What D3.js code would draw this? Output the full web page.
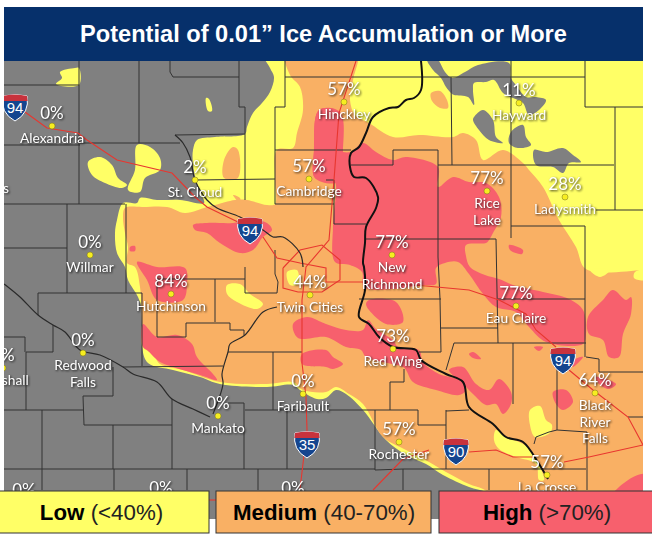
<!DOCTYPE html>
<html>
<head>
<meta charset="utf-8">
<script src="https://cdn.jsdelivr.net/npm/d3@7"></script>
<style>
  html, body { margin: 0; padding: 0; background: #fff; }
  svg { display: block; }
</style>
</head>
<body>
<script>
// map outlines are traced in reference-map units, everything goes through x() and y()
var title = "Potential of 0.01\u201D Ice Accumulation or More";
var levelNames = ["Low", "Medium", "High"];
var levelRanges = ["(<40%)", "(40-70%)", "(>70%)"];

var cityNames = ["Alexandria", "St. Cloud", "Cambridge", "Hinckley", "Hayward", "Rice Lake", "Ladysmith", "New Richmond", "Willmar", "Hutchinson", "Twin Cities", "Eau Claire", "Red Wing", "Redwood Falls", "Marshall", "Black River Falls", "Faribault", "Mankato", "Rochester", "La Crosse"];
var cityValues = [0, 2, 57, 57, 11, 77, 28, 77, 0, 84, 44, 77, 73, 0, 0, 64, 0, 0, 57, 57];
var cityLines = [["Alexandria"], ["St. Cloud"], ["Cambridge"], ["Hinckley"], ["Hayward"], ["Rice", "Lake"], ["Ladysmith"], ["New", "Richmond"], ["Willmar"], ["Hutchinson"], ["Twin Cities"], ["Eau Claire"], ["Red Wing"], ["Redwood", "Falls"], ["Marshall"], ["Black", "River", "Falls"], ["Faribault"], ["Mankato"], ["Rochester"], ["La Crosse"]];
var cityLon = [52, 195, 309, 344, 519, 487, 565, 392, 90, 171, 310, 516, 393, 83, 3, 595, 303, 218, 399, 547];
var cityLat = [126, 180, 179, 102, 103, 191, 197, 255, 255, 294, 295, 306, 349, 353, 368, 393, 394, 416, 442, 475];
var hiddenValues = [0, 0, 0];
var hiddenLon = [24, 161, 293];
var hiddenLat = [503, 501, 501];

var yellowZone = [[263,50],[270,68],[274,77],[270,92],[262,103],[253,113],[247,127],[245,134],[215,137],[197,140],[193,150],[193,165],[196,180],[200,192],[204,203],[180,200],[157,200],[140,198],[137,203],[123,203],[117,220],[115,233],[117,253],[125,267],[128,280],[138,297],[142,310],[142,347],[148,363],[173,370],[200,377],[220,384],[267,387],[293,385],[300,390],[317,399],[326,398],[336,390],[346,394],[363,410],[386,440],[406,455],[426,464],[443,475],[469,487],[486,492],[500,500],[520,530],[660,540],[660,50]];
var yellowSpots = [
  [[75,68],[79,68],[79,85],[56,84],[62,78],[60,72]],
  [[206,98],[209,99],[212,111],[208,111]],
  [[88,162],[100,157],[112,165],[118,178],[127,185],[122,188],[105,183],[92,175]],
  [[137,145],[150,147],[160,158],[160,170],[145,178],[140,192],[128,190],[135,170]]
];
var grayHoles = [
  [[427,59],[437,59],[445,72],[452,78],[465,72],[478,65],[509,63],[511,78],[516,85],[526,97],[536,97],[546,100],[539,110],[529,115],[523,103],[513,98],[503,93],[494,80],[486,82],[474,83],[473,90],[474,105],[468,97],[454,95],[451,93],[446,87],[441,78],[433,70]],
  [[474,117],[483,110],[493,120],[496,137],[503,143],[489,140],[479,130],[473,120]],
  [[511,132],[523,125],[526,137],[531,145],[518,148],[509,143]],
  [[534,150],[546,152],[563,148],[573,155],[581,162],[569,163],[563,173],[553,167],[536,165]]
];
var orangeZone = [[285,50],[290,75],[300,87],[303,110],[297,133],[293,148],[277,150],[275,180],[275,204],[267,205],[247,200],[235,200],[215,205],[207,207],[185,213],[167,207],[143,207],[125,208],[123,217],[125,233],[128,247],[127,263],[135,267],[140,287],[142,324],[143,347],[153,354],[160,364],[183,370],[220,382],[267,384],[293,382],[303,390],[326,392],[336,387],[349,394],[363,404],[383,437],[406,450],[429,462],[446,472],[469,484],[483,489],[500,500],[520,530],[660,540],[660,268],[643,270],[586,269],[576,247],[559,220],[543,187],[529,170],[523,163],[503,150],[483,160],[476,140],[463,133],[453,137],[419,135],[393,137],[369,123],[355,115],[350,100],[353,80],[357,50]];
var orangeSpots = [
  [[431,93],[440,91],[447,100],[448,108],[440,108],[432,101]],
  [[224,160],[233,147],[238,150],[238,178],[224,178]],
  [[233,195],[240,198],[240,203]]
];
var paleSpots = [
  [[227,285],[240,284],[250,294],[263,304],[257,309],[237,302],[227,294]],
  [[287,272],[297,270],[298,284],[290,285]],
  [[530,410],[540,406],[546,420],[552,425],[550,433],[535,437],[530,425]],
  [[496,430],[494,440],[499,449],[516,457],[536,464],[539,480],[544,480],[533,454],[523,444],[506,437]],
  [[590,270],[610,270],[600,277]],
  [[635,272],[645,270],[645,280],[634,278]]
];
var redZones = [
  [[319,110],[340,112],[343,150],[338,182],[315,178],[314,150]],
  [[319,110],[339,112],[340,150],[351,152],[363,143],[376,152],[393,160],[406,157],[438,167],[438,187],[453,177],[469,182],[486,183],[499,197],[501,217],[493,233],[489,240],[486,243],[466,245],[466,256],[470,267],[485,275],[499,279],[513,285],[543,292],[569,299],[583,310],[586,334],[583,344],[546,342],[529,327],[516,312],[496,307],[483,294],[469,274],[458,262],[445,263],[436,268],[436,284],[423,285],[393,289],[364,287],[362,272],[350,265],[335,262],[333,225],[335,182],[328,178],[315,178],[314,150]],
  [[369,300],[396,302],[403,322],[386,324],[369,310],[366,304]],
  [[293,324],[307,317],[326,324],[346,330],[363,330],[368,320],[376,329],[393,340],[398,347],[419,350],[423,362],[439,374],[459,380],[466,390],[459,395],[436,390],[413,382],[406,370],[403,367],[366,357],[361,350],[346,347],[326,337],[298,338]],
  [[302,354],[326,350],[333,357],[343,364],[333,369],[326,367],[302,364]],
  [[449,370],[463,367],[476,384],[489,390],[499,379],[511,392],[511,404],[503,414],[496,404],[486,405],[473,394],[463,384]],
  [[553,392],[566,390],[573,402],[563,410],[556,404]],
  [[588,317],[603,300],[613,290],[626,300],[631,297],[631,314],[623,334],[619,357],[609,357],[603,340],[589,334]],
  [[596,377],[616,384],[609,389],[599,384]],
  [[619,487],[645,474],[660,500],[610,500]],
  [[469,354],[473,352],[481,359],[473,358]],
  [[534,347],[543,347],[539,351]],
  [[573,367],[583,357],[574,360]],
  [[137,262],[157,267],[185,268],[187,284],[183,300],[157,300],[147,280]],
  [[143,324],[157,337],[177,335],[192,344],[197,357],[213,374],[217,380],[200,375],[173,367],[160,362],[147,350],[143,347]],
  [[193,225],[207,223],[233,223],[250,220],[267,223],[272,230],[263,237],[253,250],[240,253],[220,243],[207,233],[195,230]],
  [[130,247],[135,246],[135,251],[130,251]],
  [[509,245],[523,250],[522,254],[510,250]]
];

var countyLines = [
  [[4,85],[79,85]], [[79,61],[79,204]], [[4,145],[80,145]], [[80,143],[180,143]], [[139,61],[139,143]], [[4,204],[125,204]],
  [[67,204],[67,293]], [[4,248],[67,248]], [[126,204],[126,293]], [[38,293],[142,293]], [[170,61],[170,72],[173,77],[239,77]],
  [[239,61],[239,107],[245,107],[245,178]], [[175,135],[245,134]], [[195,180],[275,179]], [[285,61],[285,107],[275,107],[275,204]],
  [[275,150],[351,150]], [[275,204],[334,204]], [[285,77],[422,77]], [[422,77],[585,77]], [[585,61],[585,107],[643,107]],
  [[615,107],[615,210]], [[596,210],[643,210]], [[438,165],[614,165]], [[511,61],[511,238]], [[451,77],[452,165]],
  [[393,150],[438,150]], [[393,150],[393,165],[351,165]], [[438,150],[438,257],[440,299],[441,352],[419,352]],
  [[326,180],[334,180],[334,224],[366,224]], [[366,239],[496,239]], [[511,226],[585,226]], [[585,226],[585,357]],
  [[496,239],[498,343]], [[498,299],[585,299]], [[359,299],[441,299]], [[441,328],[498,328]],
  [[454,343],[586,343]], [[454,343],[446,370]], [[513,343],[513,404]], [[586,357],[599,359],[599,372],[643,372]],
  [[557,350],[557,430],[587,432],[587,490]], [[557,430],[549,432],[536,437],[534,444]], [[628,417],[643,417]],
  [[390,382],[404,382],[404,369]], [[390,382],[390,410]], [[329,410],[418,410],[418,425],[446,425]], [[446,410],[446,469]], [[446,411],[469,410]],
  [[375,410],[375,470]], [[375,470],[403,469],[489,469],[586,469]], [[489,469],[489,490]], [[403,469],[403,490]],
  [[4,410],[83,410]], [[42,410],[42,469]], [[83,396],[113,396],[113,367]], [[83,396],[84,425],[172,425]],
  [[123,367],[223,366]], [[142,293],[142,366]], [[26,352],[26,410]], [[26,352],[53,352],[53,325]], [[38,293],[38,315]], [[4,337],[25,337],[25,352]],
  [[113,425],[113,469]], [[172,399],[172,469]], [[244,403],[244,469]], [[228,403],[244,403]], [[245,410],[302,410]], [[287,410],[287,469]],
  [[4,469],[375,469]], [[42,469],[42,490]], [[114,469],[114,490]], [[187,469],[187,490]], [[258,469],[258,490]],
  [[273,352],[273,410]], [[228,352],[302,352]], [[157,279],[157,337],[186,337],[186,323],[230,323],[230,330],[244,330],[244,335]],
  [[215,279],[215,322]], [[157,279],[245,279]], [[245,267],[245,293],[277,293],[278,282],[275,274],[275,267]],
  [[245,178],[245,200]], [[275,250],[275,267]]
];
var darkRivers = [
  [[4,284],[8,287],[20,297],[38,315],[53,325],[65,332],[80,350],[100,355],[123,367],[133,374],[157,382],[172,399],[193,409],[210,417]],
  [[213,414],[223,384],[222,374],[228,352],[230,344],[245,335],[263,312],[277,307]],
  [[175,135],[183,143],[190,157],[195,180],[207,200],[217,208],[240,217],[263,230],[273,237],[283,237],[300,253],[303,267]]
];
var stCroix = [[421,61],[421,90],[414,98],[406,100],[398,107],[389,108],[373,117],[366,133],[359,147],[351,153],[350,167],[354,177],[366,178],[378,197],[376,208],[366,227],[365,243],[363,263],[364,267],[365,290],[359,317],[369,324],[379,337],[393,347],[416,350],[421,360],[446,374],[463,382],[469,407],[493,424],[506,437],[523,442],[539,464],[548,479]];
var roads = [
  [[25,112],[47,128],[78,133],[87,140],[117,160],[172,173],[195,197],[207,207],[240,223]],
  [[263,237],[277,258],[300,263],[326,268],[326,282],[362,282],[426,286],[469,290],[499,300],[526,314],[536,330],[556,347]],
  [[569,370],[593,390],[628,417],[643,445]],
  [[356,61],[339,113],[334,180],[329,240],[306,267],[302,300],[302,363],[306,397],[307,430],[300,489]],
  [[283,268],[283,288],[298,292],[322,292],[340,280],[340,260],[322,245],[300,250],[283,268]],
  [[373,490],[403,459],[429,450]], [[469,452],[496,450],[513,457],[533,457]], [[564,462],[589,457],[643,445]],
  [[208,500],[216,500]]
];
var shieldNames = ["94", "94", "94", "35", "90"];
var shieldLon = [15, 250, 563, 307, 456];
var shieldLat = [107, 230, 360, 444, 451];

var width = 652, height = 535;
var x = d3.scaleLinear().domain([0, 652]).range([0, width]);
var y = d3.scaleLinear().domain([0, 535]).range([0, height]);

var COLORS = { gray: "#808080", yellow: "#ffff66", orange: "#f9b064", red: "#f7606d", navy: "#06306b", county: "#333333" };
var mapLabelFont = "Lato, 'Open Sans', sans-serif";
var headFont = "'Liberation Sans', Arial, sans-serif";

var blob = d3.line().x(function(d) { return x(d[0]); }).y(function(d) { return y(d[1]); }).curve(d3.curveCatmullRomClosed.alpha(0.5));
var wiggle = d3.line().x(function(d) { return x(d[0]); }).y(function(d) { return y(d[1]); }).curve(d3.curveCatmullRom.alpha(0.5));
var straight = d3.line().x(function(d) { return x(d[0]); }).y(function(d) { return y(d[1]); });

var svg = d3.select(document.body).append("svg").attr("width", width).attr("height", height);
var defs = svg.append("defs");
defs.append("clipPath").attr("id", "mapClip").append("rect")
  .attr("x", x(4)).attr("y", y(61)).attr("width", x(643) - x(4)).attr("height", y(519) - y(61));

var map = svg.append("g").attr("clip-path", "url(#mapClip)");
map.append("rect").attr("x", 0).attr("y", 0).attr("width", width).attr("height", height).attr("fill", COLORS.gray);

function fillZones(list, color) {
  map.append("g").selectAll("path").data(list).enter().append("path")
    .attr("d", blob).attr("fill", color);
}
fillZones(yellowSpots.concat([yellowZone]), COLORS.yellow);
fillZones(grayHoles, COLORS.gray);
fillZones(orangeSpots.concat([orangeZone]), COLORS.orange);
fillZones(paleSpots, COLORS.yellow);
fillZones(redZones, COLORS.red);

map.append("g").selectAll("path").data(countyLines).enter().append("path")
  .attr("d", straight).attr("fill", "none").attr("stroke", COLORS.county).attr("stroke-width", 1);
map.append("g").selectAll("path").data(roads).enter().append("path")
  .attr("d", straight).attr("fill", "none").attr("stroke", "#e8362f").attr("stroke-width", 1.1);
map.append("g").selectAll("path").data(darkRivers).enter().append("path")
  .attr("d", wiggle).attr("fill", "none").attr("stroke", "#2a2a2a").attr("stroke-width", 1.2);
map.append("path").datum(stCroix)
  .attr("d", wiggle).attr("fill", "none").attr("stroke", "#111").attr("stroke-width", 2);

// interstate shields
var shields = map.append("g").selectAll("g").data(shieldNames).enter().append("g")
  .attr("transform", function(d, i) { return "translate(" + x(shieldLon[i]) + "," + y(shieldLat[i]) + ")"; });
shields.append("path")
  .attr("d", "M-12,-11 Q0,-14 12,-11 Q15,6 0,14 Q-15,6 -12,-11Z")
  .attr("fill", "#14458f").attr("stroke", "#fff").attr("stroke-width", 1);
shields.append("path")
  .attr("d", "M-12,-11 Q0,-14 12,-11 L12.6,-6 L-12.6,-6Z")
  .attr("fill", "#c8323c");
shields.append("text").text(function(d) { return d; })
  .attr("text-anchor", "middle").attr("y", 6)
  .attr("font-family", headFont).attr("font-size", 15).attr("fill", "#fff");

// cities
var cities = map.append("g").selectAll("g").data(cityNames).enter().append("g")
  .attr("transform", function(d, i) { return "translate(" + x(cityLon[i]) + "," + y(cityLat[i]) + ")"; });
cities.append("circle").attr("r", 3).attr("fill", "#f7ee20").attr("stroke", "#77701a").attr("stroke-width", 0.5);
cities.append("text")
  .text(function(d, i) { return cityValues[i] + "%"; })
  .attr("text-anchor", "middle").attr("y", -7)
  .attr("font-family", mapLabelFont).attr("font-size", 17).attr("fill", "#fff")
  .style("filter", "drop-shadow(1px 1px 1px rgba(0,0,0,.75))");
cities.each(function(d, i) {
  d3.select(this).selectAll("text.name").data(cityLines[i]).enter().append("text")
    .attr("class", "name").text(function(t) { return t; })
    .attr("text-anchor", "middle").attr("y", function(t, k) { return 17 + k * 16.5; })
    .attr("font-family", mapLabelFont).attr("font-size", 13.8).attr("fill", "#fff")
    .style("filter", "drop-shadow(1px 1px 1px rgba(0,0,0,.8))");
});
// the city ending at the left edge
map.append("text").text("Morris").attr("text-anchor", "end").attr("x", x(9)).attr("y", y(193))
  .attr("font-family", mapLabelFont).attr("font-size", 13.8).attr("fill", "#fff")
  .style("filter", "drop-shadow(1px 1px 1px rgba(0,0,0,.8))");
// percentages whose cities sit behind the legend
map.append("g").selectAll("text").data(hiddenValues).enter().append("text")
  .text(function(d) { return d + "%"; })
  .attr("text-anchor", "middle")
  .attr("x", function(d, i) { return x(hiddenLon[i]); })
  .attr("y", function(d, i) { return y(hiddenLat[i]) - 7; })
  .attr("font-family", mapLabelFont).attr("font-size", 17).attr("fill", "#fff")
  .style("filter", "drop-shadow(1px 1px 1px rgba(0,0,0,.75))");

// title banner
svg.append("rect").attr("x", 4).attr("y", 7).attr("width", 639).attr("height", 54).attr("fill", COLORS.navy);
svg.append("text").text(title).attr("x", 323.5).attr("y", 42)
  .attr("text-anchor", "middle").attr("font-family", headFont).attr("font-weight", 700)
  .attr("font-size", 23.6).attr("fill", "#fff");

// legend
var legendLeft = [-1, 216, 439], legendRight = [209, 431, 653], legendMid = [101.5, 324, 547];
var legendFill = [COLORS.yellow, COLORS.orange, COLORS.red];
var legend = svg.append("g").selectAll("g").data(levelNames).enter().append("g");
legend.append("rect")
  .attr("x", function(d, i) { return legendLeft[i]; }).attr("y", 491)
  .attr("width", function(d, i) { return legendRight[i] - legendLeft[i]; }).attr("height", 42)
  .attr("fill", function(d, i) { return legendFill[i]; })
  .attr("stroke", "#333").attr("stroke-width", 1);
var legendText = legend.append("text")
  .attr("x", function(d, i) { return legendMid[i]; }).attr("y", 520)
  .attr("text-anchor", "middle").attr("font-family", headFont).attr("font-size", 22.3).attr("fill", "#000");
legendText.append("tspan").attr("font-weight", 700).text(function(d) { return d; });
legendText.append("tspan").attr("fill", "#222").text(function(d, i) { return " " + levelRanges[i]; });
</script>
</body>
</html>
